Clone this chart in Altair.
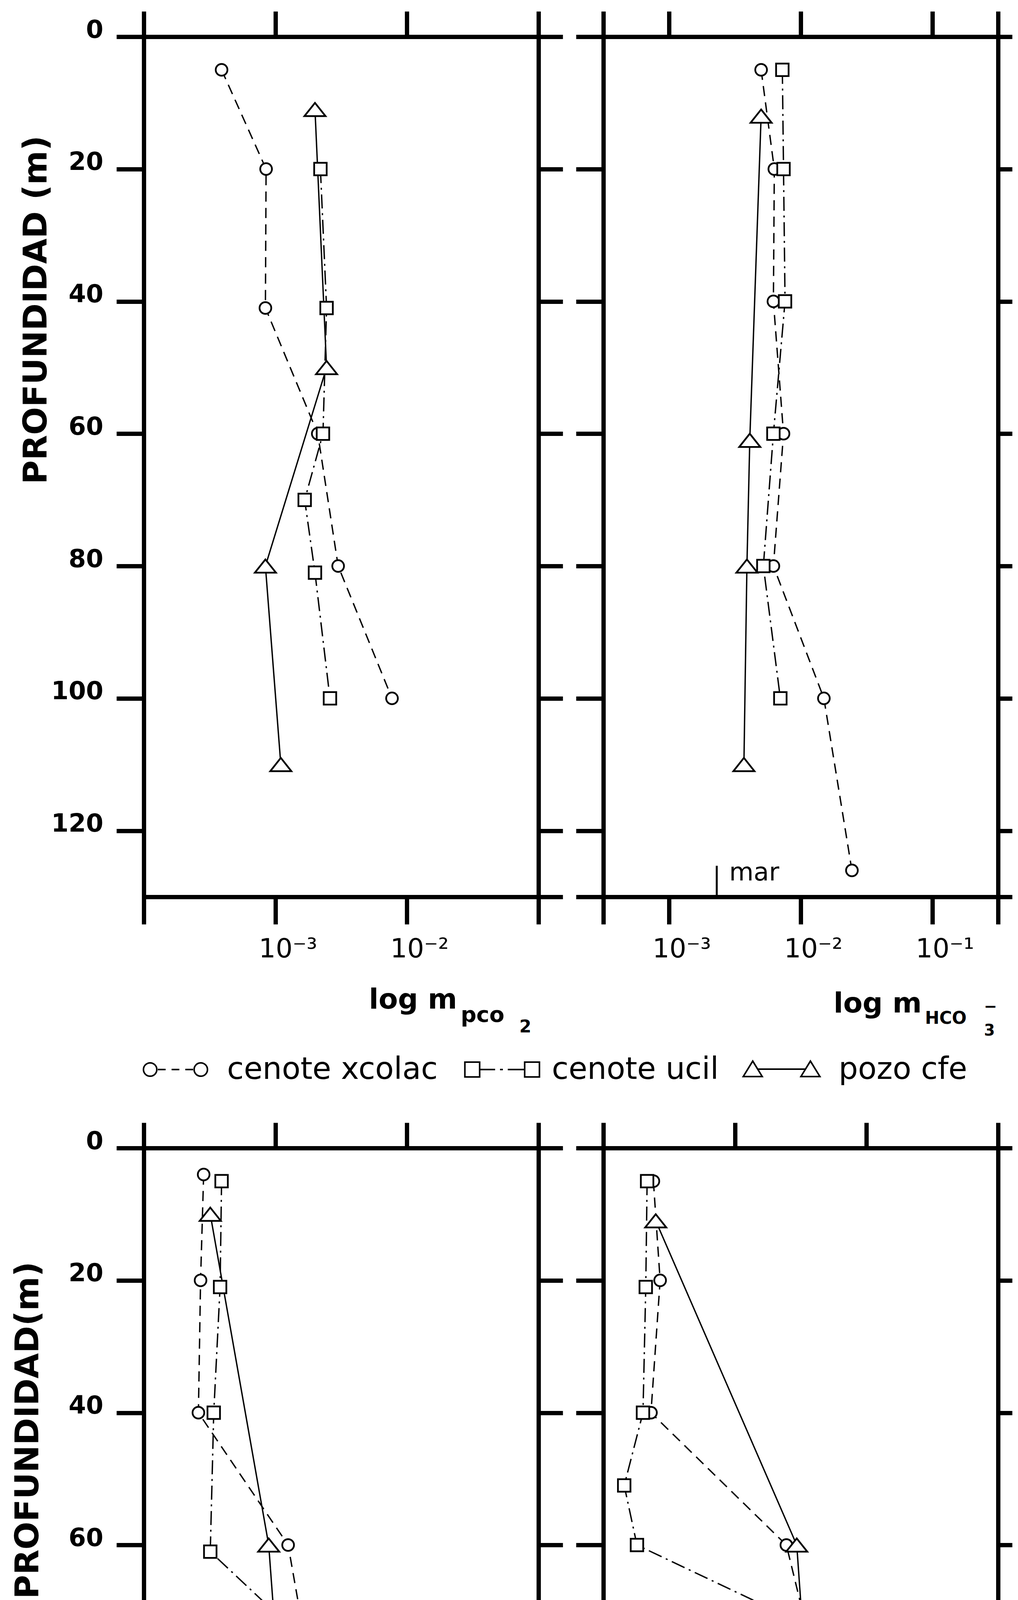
import altair as alt
import pandas as pd

# ---------------- data ----------------
SERIES = ["cenote xcolac", "cenote ucil", "pozo cfe"]

# log m pCO2 (upper left)
PCO2_XCOLAC_DEPTH = [5, 20, 41, 60, 80, 100]
PCO2_XCOLAC = [3.9e-4, 8.5e-4, 8.4e-4, 2.1e-3, 3.0e-3, 7.7e-3]
PCO2_UCIL_DEPTH = [20, 41, 60, 70, 81, 100]
PCO2_UCIL = [2.2e-3, 2.45e-3, 2.3e-3, 1.67e-3, 2.0e-3, 2.6e-3]
PCO2_CFE_DEPTH = [11, 50, 80, 110]
PCO2_CFE = [2.0e-3, 2.45e-3, 8.4e-4, 1.1e-3]

# log m HCO3- (upper right)
HCO3_XCOLAC_DEPTH = [5, 20, 40, 60, 80, 100, 126]
HCO3_XCOLAC = [5.0e-3, 6.3e-3, 6.2e-3, 7.4e-3, 6.2e-3, 1.5e-2, 2.45e-2]
HCO3_UCIL_DEPTH = [5, 20, 40, 60, 80, 100]
HCO3_UCIL = [7.25e-3, 7.4e-3, 7.6e-3, 6.2e-3, 5.2e-3, 7.0e-3]
HCO3_CFE_DEPTH = [12, 61, 80, 110]
HCO3_CFE = [5.0e-3, 4.1e-3, 3.9e-3, 3.7e-3]

# log m Ca++ (lower left)
CA_XCOLAC_DEPTH = [4, 20, 40, 60, 80, 100, 125]
CA_XCOLAC = [2.85e-3, 2.7e-3, 2.6e-3, 1.25e-2, 1.88e-2, 2.3e-2, 2.6e-2]
CA_UCIL_DEPTH = [5, 21, 40, 61, 70, 81, 101]
CA_UCIL = [3.9e-3, 3.8e-3, 3.4e-3, 3.2e-3, 9.7e-3, 1.34e-2, 1.87e-2]
CA_CFE_DEPTH = [10, 60, 76, 110]
CA_CFE = [3.2e-3, 8.9e-3, 1.02e-2, 1.83e-2]

# log m Mg++ (lower right)
MG_XCOLAC_DEPTH = [5, 20, 40, 60, 81, 100, 125]
MG_XCOLAC = [2.4e-3, 2.7e-3, 2.3e-3, 2.46e-2, 4.45e-2, 8.7e-2, 9.8e-2]
MG_UCIL_DEPTH = [5, 21, 40, 51, 60, 70, 81, 101]
MG_UCIL = [2.15e-3, 2.1e-3, 2.0e-3, 1.44e-3, 1.8e-3, 2.07e-2, 2.83e-2, 4.2e-2]
MG_CFE_DEPTH = [11, 60, 81, 110]
MG_CFE = [2.5e-3, 2.95e-2, 3.5e-2, 4.1e-2]

# sea-water reference ("mar")
MAR_HCO3 = 2.3e-3
MAR_CA = 9.5e-3
MAR_MG = 5.0e-2

DEPTH_TICKS = [0, 20, 40, 60, 80, 100, 120]
DEPTH_TICKS_FULL = [0, 20, 40, 60, 80, 100, 120, 130]

# ---------------- style / layout ----------------
FONT = "DejaVu Sans"
BLACK = "black"
W = 1010
H = 2202
COL_GAP = 166
ROW_GAP = 643

DASHES = [[26, 16], [36, 12, 5, 12], [1, 0]]
SHAPES = ["circle", "square", "M0,-0.63L1,0.63L-1,0.63Z"]
SIZES = [900, 1024, 2916]

# legend key glyphs (marker - line style - marker), drawn as custom symbol paths
LEGEND_PATHS = [
    "M-0.53,0A0.19,0.19 0 1,1 -0.91,0A0.19,0.19 0 1,1 -0.53,0Z "
    "M0.91,0A0.19,0.19 0 1,1 0.53,0A0.19,0.19 0 1,1 0.91,0Z "
    "M-0.5,0L-0.28,0M-0.11,0L0.11,0M0.28,0L0.5,0",
    "M-1.06,-0.21L-0.64,-0.21L-0.64,0.21L-1.06,0.21Z "
    "M0.64,-0.21L1.06,-0.21L1.06,0.21L0.64,0.21Z "
    "M-0.64,0L-0.2,0M-0.06,0L0.02,0M0.16,0L0.64,0",
    "M-0.82,-0.24L-0.55,0.2L-1.09,0.2Z "
    "M0.82,-0.24L1.09,0.2L0.55,0.2Z "
    "M-0.67,-0.01L0.67,-0.01",
]
# legend placement (pixels, relative to the upper-left panel)
LEGEND_LAYOUT = {
    "key_x": [81, 917, 1632],
    "key_y": 2644,
    "label_x": [213, 1044, 1778],
    "label_y": 2668,
    "font_size": 78,
}


def build_df(depth_lists, value_lists):
    rows = []
    for s, ds, vs in zip(SERIES, depth_lists, value_lists):
        for d, v in zip(ds, vs):
            rows.append({"series": s, "depth": d, "value": v})
    return pd.DataFrame(rows)


def common_axis():
    return dict(domainColor=BLACK, domainWidth=11, domainCap="square",
                tickColor=BLACK, tickWidth=11, grid=False,
                labelColor=BLACK, labelFont=FONT)


def panel(cfg):
    df = build_df(cfg["depths"], cfg["values"])
    xs = alt.Scale(type="log", domain=cfg["xdomain"], nice=False)
    ys = alt.Scale(domain=[0, 130], reverse=True, nice=False, zero=False)

    lab = "".join(f"datum.value == {v} ? '{t}' : " for v, t in cfg["xlabels"]) + "''"
    bottom = alt.Axis(orient="bottom", values=cfg["xticks"], labelExpr=lab, tickSize=70,
                      labelFontSize=68, labelAlign="left", labelOffset=-43, labelPadding=30,
                      labelBaseline="top", labelFlush=False, labelOverlap=False, title=None,
                      **common_axis())
    top = alt.Axis(orient="top", values=cfg["xticks"], labels=False, tickSize=65,
                   title=None, **common_axis())
    left_kw = dict(orient="left", values=cfg["left_ticks"], tickSize=70, **common_axis())
    if cfg["ylabels"]:
        left_kw.update(labels=True, labelExpr="datum.value == 130 ? '' : datum.label",
                       labelFontSize=64, labelFontWeight="bold", labelPadding=34,
                       labelOffset=-17, labelFlush=False, labelOverlap=False, format="d",
                       title=cfg["ytitle"], titleFont=FONT, titleFontSize=84,
                       titleFontWeight="bold", titleColor=BLACK, titleX=cfg["ytitle_x"],
                       titleY=cfg["ytitle_y"], titleAngle=270, titleAlign="center",
                       titleBaseline="middle")
    else:
        left_kw.update(labels=False, title=None)
    left = alt.Axis(**left_kw)
    right = alt.Axis(orient="right", values=DEPTH_TICKS_FULL, labels=False,
                     tickSize=cfg["right_tick"], title=None, **common_axis())

    lines = alt.Chart(df).mark_line(color=BLACK, strokeWidth=3.5).encode(
        x=alt.X("value:Q", scale=xs, axis=bottom),
        y=alt.Y("depth:Q", scale=ys, axis=left),
        strokeDash=alt.StrokeDash("series:N", scale=alt.Scale(domain=SERIES, range=DASHES),
                                  legend=None),
        order=alt.Order("depth:Q"),
    )
    layers = [lines]
    for s, shp, sz in zip(SERIES, SHAPES, SIZES):
        layers.append(
            alt.Chart(df).transform_filter(alt.datum.series == s).mark_point(
                shape=shp, size=sz, filled=True, fill="white", stroke=BLACK,
                strokeWidth=4.5, opacity=1
            ).encode(
                x=alt.X("value:Q", scale=xs, axis=None),
                y=alt.Y("depth:Q", scale=ys, axis=None),
            )
        )
    frame = alt.Chart(df).mark_point(opacity=0).encode(
        x=alt.X("value:Q", scale=xs, axis=top),
        y=alt.Y("depth:Q", scale=ys, axis=right),
    )
    layers.append(frame)

    if cfg.get("mar") is not None:
        mdf = pd.DataFrame({"v": [cfg["mar"]], "y1": [cfg["mar_y1"]], "y2": [130],
                            "yt": [cfg["mar_yt"]], "t": ["mar"]})
        layers.append(alt.Chart(mdf).mark_rule(color=BLACK, strokeWidth=5).encode(
            x=alt.X("v:Q", scale=xs, axis=None),
            y=alt.Y("y1:Q", scale=ys, axis=None),
            y2="y2:Q",
        ))
        layers.append(alt.Chart(mdf).mark_text(
            align="left", baseline="alphabetic", dx=cfg["mar_dx"], font=FONT,
            fontSize=64, color=BLACK
        ).encode(
            x=alt.X("v:Q", scale=xs, axis=None),
            y=alt.Y("yt:Q", scale=ys, axis=None),
            text="t:N",
        ))

    for txt, tx, ty, fs in cfg["titles"]:
        layers.append(alt.Chart(pd.DataFrame({"t": [txt]})).mark_text(
            align="left", baseline="alphabetic", font=FONT, fontSize=fs,
            fontWeight="bold", color=BLACK
        ).encode(x=alt.value(tx), y=alt.value(ty), text="t:N"))

    if cfg.get("legend"):
        for i, s in enumerate(SERIES):
            key_df = pd.DataFrame({"s": [s]})
            layers.append(alt.Chart(key_df).mark_point(
                shape=LEGEND_PATHS[i], size=32400, filled=False, stroke=BLACK,
                strokeWidth=4, opacity=1
            ).encode(x=alt.value(LEGEND_LAYOUT["key_x"][i]),
                     y=alt.value(LEGEND_LAYOUT["key_y"])))
            layers.append(alt.Chart(key_df).mark_text(
                align="left", baseline="alphabetic", font=FONT,
                fontSize=LEGEND_LAYOUT["font_size"], color=BLACK
            ).encode(x=alt.value(LEGEND_LAYOUT["label_x"][i]),
                     y=alt.value(LEGEND_LAYOUT["label_y"]), text="s:N"))

    return alt.layer(*layers).resolve_axis(x="independent", y="independent").properties(
        width=W, height=H
    )


p1 = panel(dict(
    depths=[PCO2_XCOLAC_DEPTH, PCO2_UCIL_DEPTH, PCO2_CFE_DEPTH],
    values=[PCO2_XCOLAC, PCO2_UCIL, PCO2_CFE],
    xdomain=[1e-4, 1e-1], xticks=[1e-4, 1e-3, 1e-2, 1e-1],
    xlabels=[(1e-3, "10⁻³"), (1e-2, "10⁻²")],
    ylabels=True, ytitle="PROFUNDIDAD (m)", ytitle_x=-275, ytitle_y=699,
    left_ticks=DEPTH_TICKS, right_tick=62, mar=None,
    titles=[("log m", 576, 2488, 72), ("pco", 811, 2522, 56), ("2", 961, 2549, 44)],
    legend=True,
))
p2 = panel(dict(
    depths=[HCO3_XCOLAC_DEPTH, HCO3_UCIL_DEPTH, HCO3_CFE_DEPTH],
    values=[HCO3_XCOLAC, HCO3_UCIL, HCO3_CFE],
    xdomain=[10 ** -3.5, 10 ** -0.5], xticks=[10 ** -3.5, 1e-3, 1e-2, 1e-1, 10 ** -0.5],
    xlabels=[(1e-3, "10⁻³"), (1e-2, "10⁻²"), (1e-1, "10⁻¹")],
    ylabels=False, left_ticks=DEPTH_TICKS_FULL, right_tick=36,
    mar=MAR_HCO3, mar_y1=125.3, mar_yt=127.5, mar_dx=32,
    titles=[("log m", 589, 2498, 72), ("HCO", 823, 2527, 44), ("3", 974, 2557, 40),
            ("−", 974, 2496, 40)],
))
p3 = panel(dict(
    depths=[CA_XCOLAC_DEPTH, CA_UCIL_DEPTH, CA_CFE_DEPTH],
    values=[CA_XCOLAC, CA_UCIL, CA_CFE],
    xdomain=[1e-3, 1e0], xticks=[1e-3, 1e-2, 1e-1, 1e0],
    xlabels=[(1e-2, "10⁻²"), (1e-1, "10⁻¹")],
    ylabels=True, ytitle="PROFUNDIDAD(m)", ytitle_x=-296, ytitle_y=722,
    left_ticks=DEPTH_TICKS_FULL, right_tick=62,
    mar=MAR_CA, mar_y1=127, mar_yt=129.3, mar_dx=38,
    titles=[("log m", 548, 2486, 72), ("Ca", 780, 2517, 62), ("++", 860, 2471, 32)],
))
p4 = panel(dict(
    depths=[MG_XCOLAC_DEPTH, MG_UCIL_DEPTH, MG_CFE_DEPTH],
    values=[MG_XCOLAC, MG_UCIL, MG_CFE],
    xdomain=[1e-3, 1e0], xticks=[1e-3, 1e-2, 1e-1, 1e0],
    xlabels=[(1e-2, "10⁻²"), (1e-1, "10⁻¹")],
    ylabels=False, left_ticks=DEPTH_TICKS_FULL, right_tick=36,
    mar=MAR_MG, mar_y1=127.3, mar_yt=129.7, mar_dx=12,
    titles=[("log m", 556, 2500, 72), ("Mg", 772, 2519, 58), ("++", 876, 2478, 32)],
))

chart = alt.concat(
    p1, p2, p3, p4, columns=2, bounds="flush",
    spacing=alt.RowColnumber(row=ROW_GAP, column=COL_GAP),
).properties(
    padding={"left": 22, "top": 15, "right": 0, "bottom": 0},
    background="white",
).configure_view(stroke=None)

chart.save("out.html", embed_options={"renderer": "svg", "actions": False})
